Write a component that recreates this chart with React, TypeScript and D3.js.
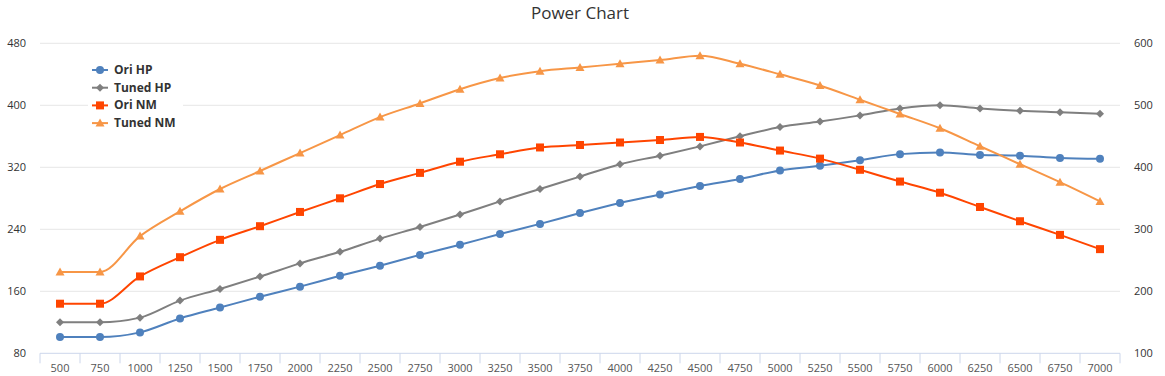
import React from "react";
import * as d3 from "d3";

const rpm = [500, 750, 1000, 1250, 1500, 1750, 2000, 2250, 2500, 2750, 3000, 3250, 3500, 3750, 4000, 4250, 4500, 4750, 5000, 5250, 5500, 5750, 6000, 6250, 6500, 6750, 7000];
const oriHP = [101, 101, 107, 125, 139, 153, 166, 180, 193, 207, 220, 234, 247, 261, 274, 285, 296, 305, 316, 322, 329, 337, 339, 336, 335, 332, 331];
const tunedHP = [120, 120, 126, 148, 163, 179, 196, 211, 228, 243, 259, 276, 292, 308, 324, 335, 347, 360, 372, 379, 387, 396, 400, 396, 393, 391, 389];
const oriNM = [180, 180, 224, 255, 283, 305, 328, 350, 373, 391, 409, 421, 432, 436, 440, 444, 449, 440, 427, 414, 396, 377, 359, 336, 313, 291, 268];
const tunedNM = [231, 231, 289, 329, 365, 394, 423, 452, 481, 503, 526, 544, 555, 561, 567, 573, 580, 567, 550, 532, 509, 486, 463, 434, 405, 376, 345];
const leftTicks = [80, 160, 240, 320, 400, 480];
const rightTicks = [100, 200, 300, 400, 500, 600];

type Series = { name: string; data: number[]; color: string; marker: string; axis: "left" | "right" };
const series: Series[] = [
  { name: "Ori HP", data: oriHP, color: "#4F81BD", marker: "circle", axis: "left" },
  { name: "Tuned HP", data: tunedHP, color: "#7F7F7F", marker: "diamond", axis: "left" },
  { name: "Ori NM", data: oriNM, color: "#FF4500", marker: "square", axis: "right" },
  { name: "Tuned NM", data: tunedNM, color: "#F79646", marker: "triangle", axis: "right" },
];

const W = 1165, H = 376;
const L = 40, R = 1120, T = 43.3, B = 353.3;
const font = "'Open Sans', 'DejaVu Sans', sans-serif";

function Marker({ type, x, y, color }: { type: string; x: number; y: number; color: string }) {
  if (type === "circle") return <circle cx={x} cy={y} r={4} fill={color} />;
  if (type === "square") return <rect x={x - 4} y={y - 4} width={8} height={8} fill={color} />;
  if (type === "diamond") return <path d={`M${x},${y - 4}L${x + 4},${y}L${x},${y + 4}L${x - 4},${y}Z`} fill={color} />;
  return <path d={`M${x},${y - 4.5}L${x + 4.5},${y + 3.5}L${x - 4.5},${y + 3.5}Z`} fill={color} />;
}

export default function App() {
  const x = d3.scaleBand<number>().domain(rpm).range([L, R]);
  const yL = d3.scaleLinear().domain([80, 480]).range([B, T]);
  const yR = d3.scaleLinear().domain([100, 600]).range([B, T]);
  const cx = (v: number) => (x(v) as number) + x.bandwidth() / 2;
  const boundaries = d3.range(rpm.length + 1).map((i) => L + i * x.step());

  return (
    <svg width={W} height={H} style={{ position: "absolute", left: 0, top: 0, fontFamily: font }}>
      <rect width={W} height={H} fill="#fff" />
      <text x={580} y={18.5} textAnchor="middle" fontSize={17} fill="#333">Power Chart</text>
      {leftTicks.map((t) => (
        <g key={"l" + t}>
          {t !== 80 && <line x1={L} x2={R} y1={yL(t)} y2={yL(t)} stroke="#e6e6e6" strokeWidth={1} />}
          <text x={26} y={yL(t) + 4} textAnchor="end" fontSize={11} fill="#333">{t}</text>
        </g>
      ))}
      {rightTicks.map((t) => (
        <text key={"r" + t} x={1134} y={yR(t) + 4} textAnchor="start" fontSize={11} fill="#333">{t}</text>
      ))}
      <line x1={L} x2={R} y1={B} y2={B} stroke="#ccd6eb" strokeWidth={1} />
      {boundaries.map((b, i) => (
        <line key={"tk" + i} x1={b} x2={b} y1={B} y2={B + 10} stroke="#ccd6eb" strokeWidth={1} />
      ))}
      {rpm.map((r) => (
        <text key={"x" + r} x={cx(r)} y={372} textAnchor="middle" fontSize={11} fill="#555">{r}</text>
      ))}
      {series.map((s) => {
        const ys = s.axis === "left" ? yL : yR;
        const line = d3.line<number>().x((_, i) => cx(rpm[i])).y((d) => ys(d)).curve(d3.curveMonotoneX);
        return (
          <g key={s.name}>
            <path d={line(s.data) || ""} fill="none" stroke={s.color} strokeWidth={2} />
            {s.data.map((d, i) => (
              <Marker key={i} type={s.marker} x={cx(rpm[i])} y={ys(d)} color={s.color} />
            ))}
          </g>
        );
      })}
      <rect x={88} y={60} width={95} height={72} fill="#fff" />
      {series.map((s, i) => {
        const yy = 70 + i * 17.7;
        return (
          <g key={"lg" + s.name}>
            <line x1={92} x2={108} y1={yy} y2={yy} stroke={s.color} strokeWidth={2} />
            <Marker type={s.marker} x={100} y={yy} color={s.color} />
            <text x={114} y={yy + 4} fontSize={12} fontWeight="bold" fill="#333">{s.name}</text>
          </g>
        );
      })}
    </svg>
  );
}
